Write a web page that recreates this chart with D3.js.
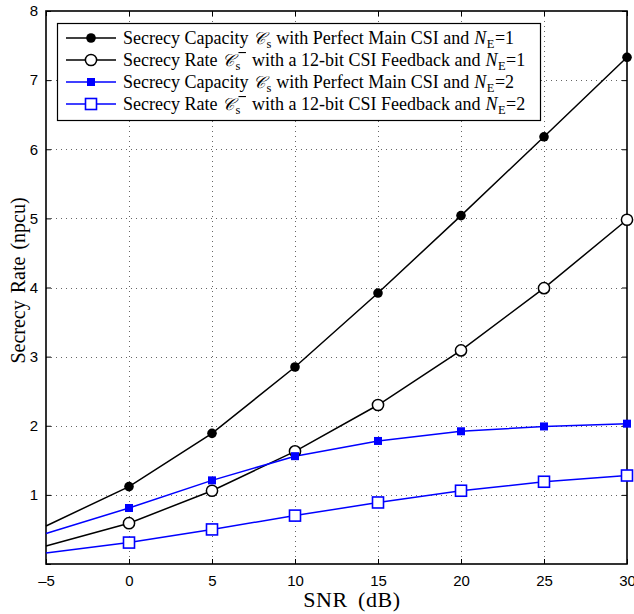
<!DOCTYPE html>
<html>
<head>
<meta charset="utf-8">
<script src="https://cdn.jsdelivr.net/npm/d3@7"></script>
<style>
  html, body { margin: 0; padding: 0; background: #fff; }
  svg { display: block; }
</style>
</head>
<body>
<script>
// SNR points (dB)
const snr = [-5, 0, 5, 10, 15, 20, 25, 30];

// Secrecy rates (npcu)
const capNe1  = [0.55, 1.12, 1.89, 2.85, 3.92, 5.04, 6.18, 7.33];
const rateNe1 = [0.26, 0.59, 1.06, 1.63, 2.30, 3.09, 3.99, 4.98];
const capNe2  = [0.44, 0.81, 1.21, 1.56, 1.78, 1.92, 1.99, 2.03];
const rateNe2 = [0.16, 0.31, 0.50, 0.70, 0.89, 1.06, 1.19, 1.28];

const xTicks = [-5, 0, 5, 10, 15, 20, 25, 30];
const yTicks = [1, 2, 3, 4, 5, 6, 7, 8];

const series = [
  { values: capNe1,  color: "#000", marker: "dot",    filled: true,  kind: "cap",  ne: "1" },
  { values: rateNe1, color: "#000", marker: "circle", filled: false, kind: "rate", ne: "1" },
  { values: capNe2,  color: "#0000ff", marker: "square", filled: true,  kind: "cap",  ne: "2" },
  { values: rateNe2, color: "#0000ff", marker: "square", filled: false, kind: "rate", ne: "2" }
];

const W = 634, H = 614;
const m = { left: 46, right: 7, top: 11, bottom: 50 };

const svg = d3.select("body").append("svg").attr("width", W).attr("height", H);

const x = d3.scaleLinear().domain([-5, 30]).range([m.left, W - m.right]);
const y = d3.scaleLinear().domain([0, 8]).range([H - m.bottom, m.top]);

const x0 = x.range()[0], x1 = x.range()[1], y0 = y.range()[0], y1 = y.range()[1];

// dotted grid
const grid = svg.append("g").attr("stroke", "#666").attr("stroke-width", 1)
  .attr("stroke-dasharray", "1,4");
xTicks.slice(1, -1).forEach(t => {
  grid.append("line").attr("x1", x(t) + 0.5).attr("x2", x(t) + 0.5).attr("y1", y1).attr("y2", y0);
});
yTicks.slice(0, -1).forEach(t => {
  grid.append("line").attr("y1", Math.round(y(t)) + 0.5).attr("y2", Math.round(y(t)) + 0.5).attr("x1", x0).attr("x2", x1);
});

// axes
const tickFont = "'Liberation Sans', Arial, sans-serif";
const xAxis = svg.append("g").attr("transform", `translate(0,${y0})`)
  .call(d3.axisBottom(x).tickValues(xTicks).tickSize(-5).tickPadding(11)
    .tickFormat(d => d < 0 ? "\u2013" + Math.abs(d) : d));
const xAxisTop = svg.append("g").attr("transform", `translate(0,${y1})`)
  .call(d3.axisTop(x).tickValues(xTicks).tickSize(-5).tickFormat(""));
const yAxis = svg.append("g").attr("transform", `translate(${x0},0)`)
  .call(d3.axisLeft(y).tickValues([0].concat(yTicks)).tickSize(-5).tickPadding(8)
    .tickFormat(d => d === 0 ? "" : d));
const yAxisRight = svg.append("g").attr("transform", `translate(${x1},0)`)
  .call(d3.axisRight(y).tickValues(yTicks).tickSize(-5).tickFormat(""));

[xAxis, xAxisTop, yAxis, yAxisRight].forEach(g => {
  g.select(".domain").remove();
  g.selectAll(".tick line").attr("stroke", "#000").attr("stroke-width", 1);
  g.selectAll("text").attr("fill", "#000").style("font-family", tickFont).style("font-size", "15px");
});

// plot frame
svg.append("rect").attr("x", x0).attr("y", y1).attr("width", x1 - x0).attr("height", y0 - y1)
  .attr("fill", "none").attr("stroke", "#000").attr("stroke-width", 1.6);

// lines and markers
const line = d3.line().x((d, i) => x(snr[i])).y(d => y(d));

function drawMarker(g, type, filled, color, cx, cy) {
  if (type === "dot") {
    g.append("circle").attr("cx", cx).attr("cy", cy).attr("r", 4.8).attr("fill", color);
  } else if (type === "circle") {
    g.append("circle").attr("cx", cx).attr("cy", cy).attr("r", 5.6)
      .attr("fill", "#fff").attr("stroke", color).attr("stroke-width", 1.5);
  } else if (type === "square") {
    if (filled) {
      g.append("rect").attr("x", cx - 4).attr("y", cy - 4).attr("width", 8).attr("height", 8).attr("fill", color);
    } else {
      g.append("rect").attr("x", cx - 5.5).attr("y", cy - 5.5).attr("width", 11).attr("height", 11)
        .attr("fill", "#fff").attr("stroke", color).attr("stroke-width", 1.6);
    }
  }
}

const plot = svg.append("g");
series.forEach(s => {
  plot.append("path").datum(s.values).attr("d", line)
    .attr("fill", "none").attr("stroke", s.color).attr("stroke-width", 1.5);
});
series.forEach(s => {
  const g = plot.append("g");
  s.values.forEach((v, i) => {
    if (snr[i] >= 0) drawMarker(g, s.marker, s.filled, s.color, x(snr[i]), y(v));
  });
});

// axis titles
const serif = "'Liberation Serif', 'Times New Roman', serif";
svg.append("text").attr("x", 352).attr("y", 607).attr("text-anchor", "middle")
  .style("font-family", serif).style("font-size", "22px")
  .style("letter-spacing", "0.6px").style("word-spacing", "4px")
  .text("SNR (dB)");
svg.append("text").attr("transform", `translate(25,${(y0 + y1) / 2 - 7}) rotate(-90)`)
  .attr("text-anchor", "middle").style("font-family", serif).style("font-size", "20px")
  .style("word-spacing", "2px")
  .text("Secrecy Rate (npcu)");

// legend
const lg = svg.append("g");
lg.append("rect").attr("x", 57.5).attr("y", 23.5).attr("width", 483).attr("height", 97)
  .attr("fill", "#fff").attr("stroke", "#000").attr("stroke-width", 1.2);

// one legend label: runs of text placed one after another by measured width
function legendLabel(g, xStart, baseline, s) {
  let cx = xStart;
  function run(text, opts = {}) {
    const t = g.append("text").attr("x", cx).attr("y", baseline + (opts.dy || 0))
      .style("font-family", serif).style("font-size", (opts.size || 18) + "px")
      .style("font-style", opts.italic ? "italic" : "normal").attr("fill", "#000")
      .text(text);
    const start = cx;
    cx += t.node().getComputedTextLength() + (opts.gap || 0);
    return start;
  }
  run(s.kind === "cap" ? "Secrecy Capacity" : "Secrecy Rate", { gap: 5 });
  run("\u{1D49E}", { italic: true, size: 17, gap: 1 });
  const subX = run("s", { size: 12.5, dy: 4, gap: 5 });
  if (s.kind === "rate") {
    // superscript minus stacked above the subscript
    g.append("rect").attr("x", subX + 3).attr("y", baseline - 14).attr("width", 7.5).attr("height", 1.1)
      .attr("fill", "#000");
    cx = Math.max(cx, subX + 10.5 + 6);
  }
  run(s.kind === "cap" ? "with Perfect Main CSI and" : "with a 12-bit CSI Feedback and", { gap: 5 });
  run("N", { italic: true, gap: 0.5 });
  run("E", { size: 12.5, dy: 4, gap: 0.5 });
  run("=" + s.ne);
}

series.forEach((s, i) => {
  const cy = 38 + i * 22;
  lg.append("line").attr("x1", 66).attr("x2", 116).attr("y1", cy).attr("y2", cy)
    .attr("stroke", s.color).attr("stroke-width", 1.5);
  drawMarker(lg, s.marker, s.filled, s.color, 91, cy);
  legendLabel(lg, 123, cy + 6, s);
});
</script>
</body>
</html>
